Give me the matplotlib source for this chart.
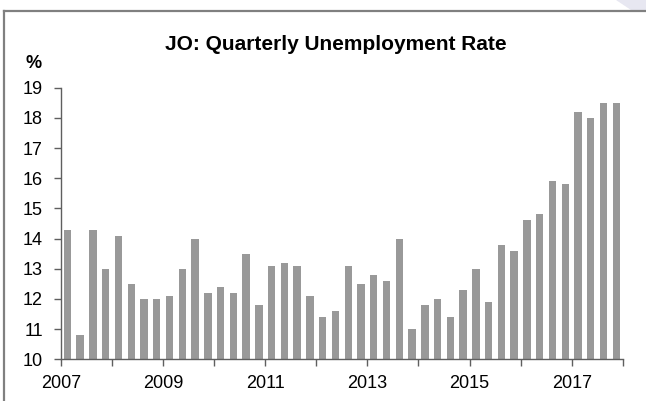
import matplotlib.pyplot as plt
from matplotlib.patches import Polygon
from matplotlib.lines import Line2D

plt.rcParams["font.family"] = ["Liberation Sans", "DejaVu Sans"]

# quarterly unemployment rate, 2007Q1 .. 2017Q4
YEARS = list(range(2007, 2018))
RATE = [
    14.3, 10.8, 14.3, 13.0,   # 2007
    14.1, 12.5, 12.0, 12.0,   # 2008
    12.1, 13.0, 14.0, 12.2,   # 2009
    12.4, 12.2, 13.5, 11.8,   # 2010
    13.1, 13.2, 13.1, 12.1,   # 2011
    11.4, 11.6, 13.1, 12.5,   # 2012
    12.8, 12.6, 14.0, 11.0,   # 2013
    11.8, 12.0, 11.4, 12.3,   # 2014
    13.0, 11.9, 13.8, 13.6,   # 2015
    14.6, 14.8, 15.9, 15.8,   # 2016
    18.2, 18.0, 18.5, 18.5,   # 2017
]
YEAR_LABELS = [str(y) if (y - 2007) % 2 == 0 else "" for y in YEARS] + [""]

BAR_COLOR = "#999999"
AXIS_COLOR = "#5f5f5f"
FRAME_COLOR = "#808080"

fig = plt.figure(figsize=(6.46, 4.01), dpi=100)

# light decoration in the top right corner
fig.patches.append(Polygon([(616 / 646, 1), (1, 1), (1, 1 - 10 / 401), (631 / 646, 1 - 10 / 401)],
                           closed=True, transform=fig.transFigure, facecolor="#e7e7f1",
                           edgecolor="none"))
# frame lines (top and left)
y_top = 1 - 10.5 / 401
x_left = 3.5 / 646
fig.lines.append(Line2D([x_left, 1], [y_top, y_top], transform=fig.transFigure,
                        color=FRAME_COLOR, lw=1.6))
fig.lines.append(Line2D([x_left, x_left], [0, y_top], transform=fig.transFigure,
                        color=FRAME_COLOR, lw=1.6))

ax = fig.add_axes([61 / 646, (401 - 359.3) / 401, 561.7 / 646, (359.3 - 87.7) / 401])

x = [i + 0.5 for i in range(len(RATE))]
ax.bar(x, [r - 10 for r in RATE], bottom=10, width=0.58, color=BAR_COLOR, edgecolor="none")

ax.set_xlim(0, len(RATE))
ax.set_ylim(10, 19)
ax.set_yticks(range(10, 20))
ax.set_xticks([4 * i for i in range(len(YEARS) + 1)])
ax.set_xticklabels(YEAR_LABELS)

for side in ("top", "right"):
    ax.spines[side].set_visible(False)
for side in ("left", "bottom"):
    ax.spines[side].set_color(AXIS_COLOR)
    ax.spines[side].set_linewidth(1.0)

ax.tick_params(axis="both", direction="out", length=5, width=1, color=AXIS_COLOR)
ax.tick_params(axis="y", labelsize=13, pad=8)
ax.tick_params(axis="x", labelsize=13, pad=6)

fig.text(336 / 646, 1 - 44 / 401, "JO: Quarterly Unemployment Rate",
         ha="center", va="center", fontsize=15, fontweight="bold")
fig.text(34 / 646, 1 - 64 / 401, "%", ha="center", va="center",
         fontsize=13, fontweight="bold")

fig.savefig("out.png", dpi=100)
